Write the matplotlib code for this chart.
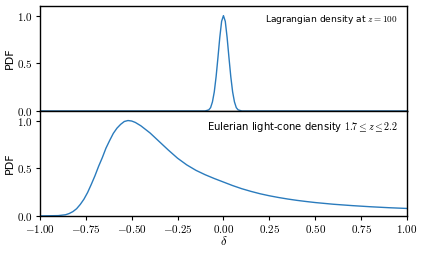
import matplotlib
matplotlib.use("Agg")
import matplotlib.pyplot as plt
from matplotlib.ticker import FuncFormatter

plt.rcParams["mathtext.fontset"] = "cm"
plt.rcParams["font.family"] = ["DejaVu Sans"]

# Lagrangian density PDF at z = 100 (normalised to peak)
delta_lag = [-1.0, -0.2, -0.1, -0.08, -0.07, -0.06, -0.05, -0.04, -0.03, -0.02, -0.01, 0.0,
             0.01, 0.02, 0.03, 0.04, 0.05, 0.06, 0.07, 0.08, 0.1, 0.2, 1.0]
pdf_lag = [0.0, 0.0, 0.0, 0.012, 0.035, 0.095, 0.2, 0.36, 0.56, 0.77, 0.94, 1.0,
           0.94, 0.77, 0.56, 0.36, 0.2, 0.095, 0.035, 0.012, 0.0, 0.0, 0.0]

# Eulerian light-cone density PDF, 1.7 <= z <= 2.2
delta_eul = [-1.0, -0.9, -0.86, -0.84, -0.82, -0.8, -0.78, -0.76, -0.74, -0.72, -0.7,
             -0.68, -0.66, -0.64, -0.62, -0.6, -0.58, -0.56, -0.54, -0.52, -0.5,
             -0.48, -0.45, -0.42, -0.4, -0.35, -0.3, -0.25, -0.2, -0.15, -0.1,
             -0.05, 0.0, 0.05, 0.1, 0.15, 0.2, 0.25, 0.3, 0.35, 0.4, 0.45, 0.5,
             0.6, 0.7, 0.8, 0.9, 1.0]
pdf_eul = [0.0, 0.003, 0.012, 0.025, 0.045, 0.075, 0.12, 0.175, 0.245, 0.33, 0.42,
           0.52, 0.61, 0.71, 0.79, 0.865, 0.92, 0.96, 0.99, 1.0, 0.995,
           0.98, 0.945, 0.9, 0.87, 0.78, 0.69, 0.605, 0.535, 0.478, 0.432,
           0.392, 0.355, 0.318, 0.285, 0.257, 0.232, 0.211, 0.193, 0.177, 0.163, 0.151, 0.14,
           0.122, 0.108, 0.096, 0.086, 0.078]

color = "#2a7bbd"

fig = plt.figure(figsize=(4.24, 2.54), dpi=100)
ax1 = fig.add_axes([0.094, 0.563, 0.866, 0.413])
ax2 = fig.add_axes([0.094, 0.150, 0.866, 0.413], sharex=ax1)

ax1.plot(delta_lag, pdf_lag, color=color, lw=1.0)
ax2.plot(delta_eul, pdf_eul, color=color, lw=1.0)

fmt1 = FuncFormatter(lambda v, p: rf"${v:.1f}$")
fmt2 = FuncFormatter(lambda v, p: rf"${v:.2f}$")

for ax in (ax1, ax2):
    ax.set_ylim(0, 1.1)
    ax.set_yticks([0.0, 0.5, 1.0])
    ax.yaxis.set_major_formatter(fmt1)
    ax.set_ylabel("PDF", fontsize=8, labelpad=2)
    ax.tick_params(labelsize=8, length=3, width=0.8, pad=2)
    for s in ax.spines.values():
        s.set_linewidth(1.0)

ax1.set_xlim(-1, 1)
ax1.set_xticks([-1.0, -0.75, -0.5, -0.25, 0.0, 0.25, 0.5, 0.75, 1.0])
ax1.tick_params(axis="x", bottom=False, labelbottom=False)
ax2.xaxis.set_major_formatter(fmt2)
ax2.set_xlabel(r"$\delta$", fontsize=9, labelpad=0)

ax1.text(0.975, 0.876, r"Lagrangian density at $z=100$", transform=ax1.transAxes,
         ha="right", va="center", fontsize=6.6)
ax2.text(0.975, 0.848, r"Eulerian light-cone density $1.7 \leq z \leq 2.2$",
         transform=ax2.transAxes, ha="right", va="center", fontsize=7.2)

fig.savefig("out.png", dpi=100)
